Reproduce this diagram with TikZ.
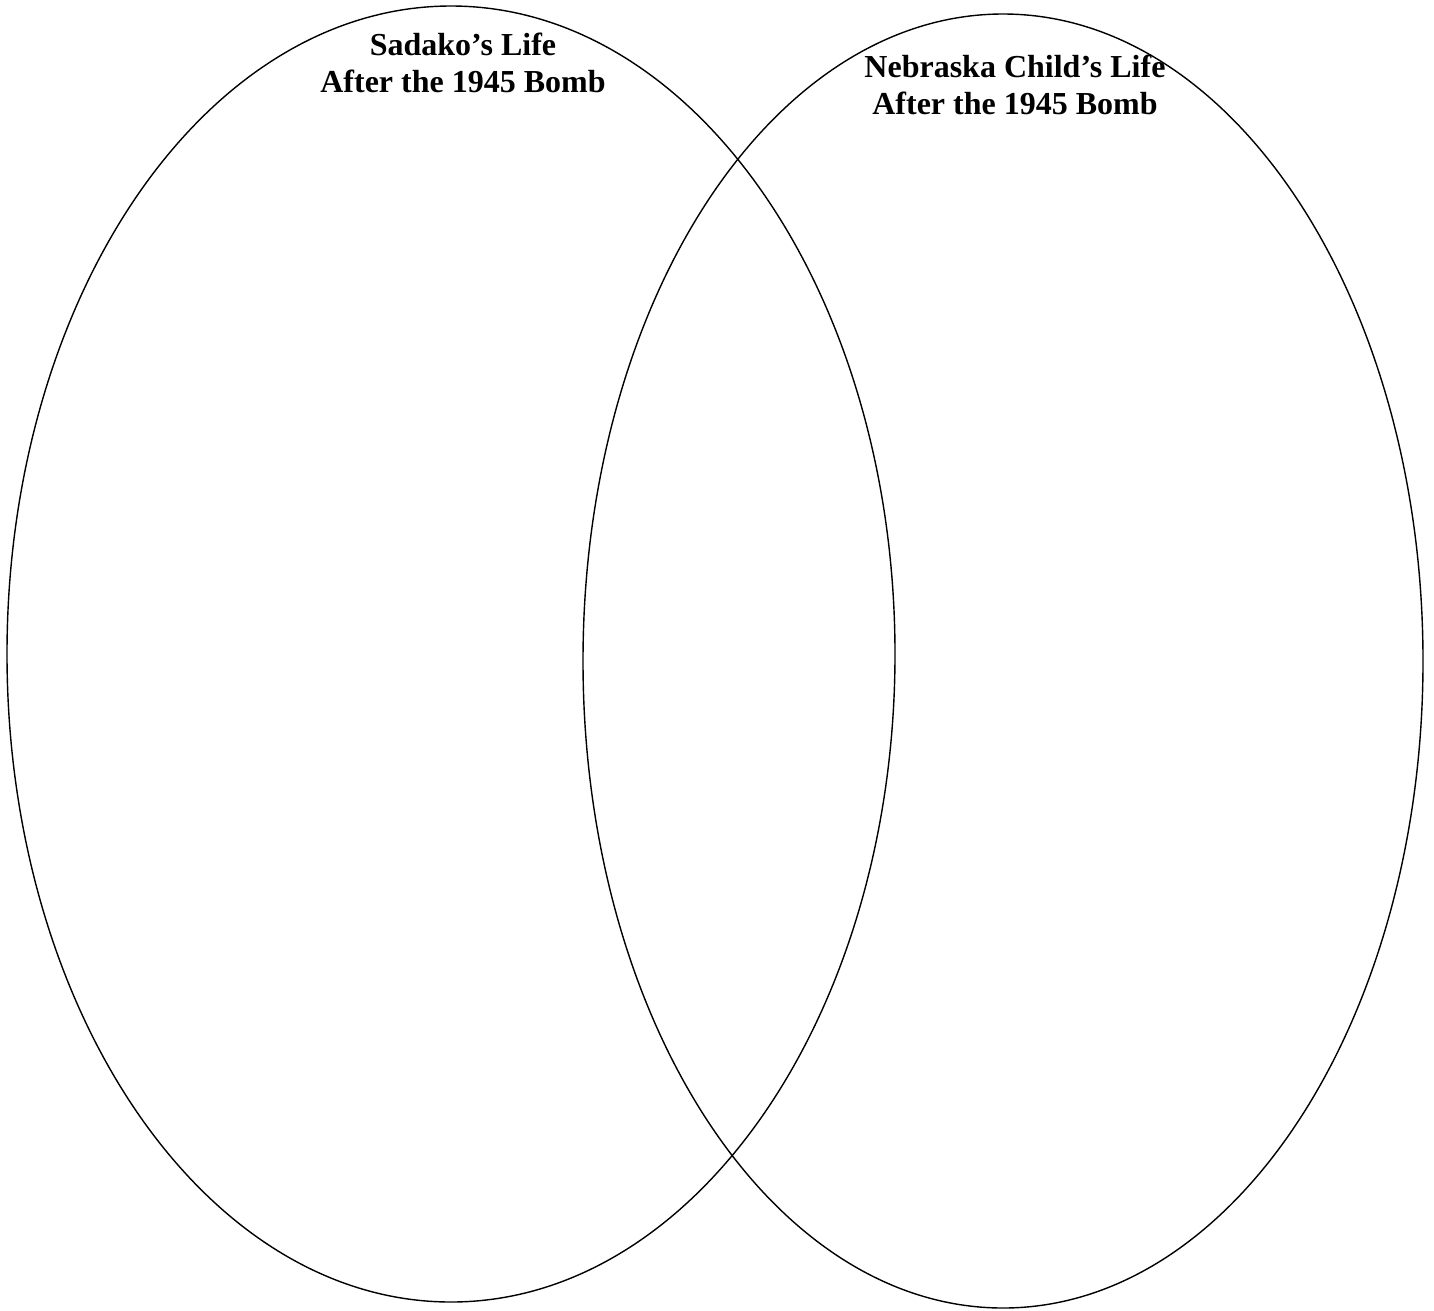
\documentclass[tikz,border=0pt]{standalone}
\usepackage{fontspec}
\setmainfont{Liberation Serif}
\begin{document}
\begin{tikzpicture}[x=1pt,y=-1pt,
  ring/.style={draw=black,line width=1.4pt},
  title/.style={font=\fontsize{32}{37}\selectfont\bfseries,align=center,inner sep=0pt,anchor=north}]
\useasboundingbox (0,0) rectangle (1434,1310);
\fill[white] (0,0) rectangle (1434,1310);
\draw[ring] (451,654) ellipse [x radius=444, y radius=648];
\draw[ring] (1003,661) ellipse [x radius=420, y radius=647];
\node[title] (left) at (463,33) {Sadako’s Life\\After the 1945 Bomb};
\node[title] (right) at (1015,55) {Nebraska Child’s Life\\After the 1945 Bomb};
\end{tikzpicture}
\end{document}
